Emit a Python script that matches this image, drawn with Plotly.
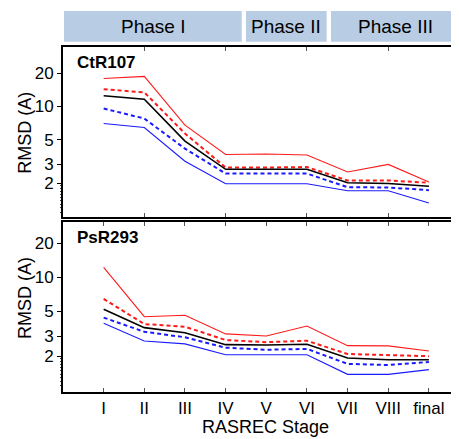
import plotly.graph_objects as go

# The page body adds an 8px margin, so the figure is 8px smaller than the window
OFF = 8
W, H = 459 - OFF, 439 - OFF

stages = ["I", "II", "III", "IV", "V", "VI", "VII", "VIII", "final"]
stage_pos = [1, 2, 3, 4, 5, 6, 7, 8, 9]

# CtR107 panel
ctr_red_solid = [17.9, 18.7, 6.75, 3.66, 3.70, 3.62, 2.54, 2.98, 2.06]
ctr_red_dash = [14.3, 13.4, 5.68, 2.79, 2.79, 2.82, 2.13, 2.13, 2.03]
ctr_black = [12.5, 11.6, 4.85, 2.69, 2.69, 2.69, 2.03, 2.00, 1.89]
ctr_blue_dash = [9.57, 7.76, 4.14, 2.46, 2.46, 2.46, 1.85, 1.84, 1.74]
ctr_blue_solid = [7.0, 6.43, 3.18, 1.99, 1.99, 1.99, 1.72, 1.72, 1.33]

# PsR293 panel
psr_red_solid = [12.2, 4.48, 4.61, 3.16, 3.03, 3.71, 2.49, 2.48, 2.23]
psr_red_dash = [6.43, 3.86, 3.66, 2.79, 2.67, 2.75, 2.10, 2.07, 2.01]
psr_black = [5.21, 3.59, 3.24, 2.54, 2.52, 2.56, 1.94, 1.87, 1.87]
psr_blue_dash = [4.40, 3.30, 2.95, 2.39, 2.29, 2.33, 1.72, 1.68, 1.79]
psr_blue_solid = [3.92, 2.74, 2.58, 2.07, 2.07, 2.07, 1.39, 1.39, 1.53]

y_ticks = [2, 3, 5, 10, 20]
y_minor = [1.1, 1.2, 1.3, 1.4, 1.5, 1.6, 1.7, 1.8, 1.9]

phases = ["Phase I", "Phase II", "Phase III"]
panel_names = ["CtR107", "PsR293"]

RED = "#ff1a1a"
BLUE = "#1a1aff"

def px_x(p):
    return (p - OFF) / W

def px_y(p):
    return 1 - (p - OFF) / H

fig = go.Figure()

styles = [
    (RED, 1.1, "solid"),
    (RED, 2.0, "4px,3px"),
    ("black", 1.6, "solid"),
    (BLUE, 2.0, "4px,3px"),
    (BLUE, 1.1, "solid"),
]

panels = [
    ("x", "y", [ctr_red_solid, ctr_red_dash, ctr_black, ctr_blue_dash, ctr_blue_solid]),
    ("x2", "y2", [psr_red_solid, psr_red_dash, psr_black, psr_blue_dash, psr_blue_solid]),
]

for xa, ya, series in panels:
    for vals, (c, w, d) in zip(series, styles):
        fig.add_trace(go.Scatter(
            x=stage_pos, y=vals, mode="lines", xaxis=xa, yaxis=ya,
            line=dict(color=c, width=w, dash=d), showlegend=False,
            hoverinfo="skip"))

font_family = "Liberation Sans, Arial, sans-serif"

xdom = [px_x(63), 1.0]
common_y = dict(
    type="log", tickvals=y_ticks, ticktext=[str(v) for v in y_ticks],
    ticks="outside", ticklen=4, tickwidth=1, tickcolor="black",
    showline=True, linecolor="black", linewidth=2, showgrid=False,
    zeroline=False, automargin=False,
    tickfont=dict(size=17, color="black", family=font_family),
    minor=dict(tickvals=y_minor, ticks="outside", ticklen=1.5, tickcolor="#444", showgrid=False),
)

fig.update_layout(
    width=W, height=H,
    margin=dict(l=0, r=0, t=0, b=0, pad=0),
    paper_bgcolor="white", plot_bgcolor="white",
    font=dict(family=font_family, color="black"),
    xaxis=dict(
        domain=xdom, anchor="y", range=[0, 9.74],
        tickvals=[2, 4, 6, 8], showticklabels=False,
        ticks="inside", ticklen=4, tickcolor="#555", tickwidth=1.2,
        showline=True, linecolor="black", linewidth=2, mirror="ticks",
        showgrid=False, zeroline=False, automargin=False),
    yaxis=dict(domain=[px_y(216.7), px_y(46.7)], anchor="x", range=[0, 1.541], **common_y),
    xaxis2=dict(
        domain=xdom, anchor="y2", range=[0, 9.74],
        tickvals=stage_pos, ticktext=stages,
        ticks="inside", ticklen=4, tickcolor="#555", tickwidth=1.2,
        showline=True, linecolor="black", linewidth=2, mirror="ticks",
        showgrid=False, zeroline=False, automargin=False,
        tickfont=dict(size=17, color="black", family=font_family)),
    yaxis2=dict(domain=[px_y(391.7), px_y(222.3)], anchor="x2", range=[-0.01, 1.484], **common_y),
)

# Axis titles as annotations for precise placement
for ycen in [132.7, 298]:
    fig.add_annotation(xref="paper", yref="paper", x=px_x(25), y=px_y(ycen),
                       text="RMSD (A)", textangle=-90, showarrow=False,
                       xanchor="center", yanchor="middle",
                       font=dict(size=18, color="black", family=font_family))
fig.add_annotation(xref="paper", yref="paper", x=px_x(265), y=px_y(427),
                   text="RASREC Stage", showarrow=False,
                   xanchor="center", yanchor="middle",
                   font=dict(size=18, color="black", family=font_family))

# Phase boxes
phase_px = [(64, 241.7), (246, 326.7), (331, 459)]
for name, (x0, x1) in zip(phases, phase_px):
    fig.add_shape(type="rect", xref="paper", yref="paper",
                  x0=px_x(x0), x1=px_x(x1), y0=px_y(41.7), y1=px_y(11),
                  fillcolor="#b8cce4", line=dict(width=0), layer="below")
    fig.add_annotation(xref="paper", yref="paper", x=px_x((x0 + x1) / 2), y=px_y(26.5),
                       text=name, showarrow=False, xanchor="center", yanchor="middle",
                       font=dict(size=19, color="black", family=font_family))

# Panel names
for name, ypx in zip(panel_names, [62.7, 237.3]):
    fig.add_annotation(xref="paper", yref="paper", x=px_x(75), y=px_y(ypx),
                       text="<b>" + name + "</b>", showarrow=False,
                       xanchor="left", yanchor="middle",
                       font=dict(size=17, color="black", family=font_family))

fig.write_html("out.html")
